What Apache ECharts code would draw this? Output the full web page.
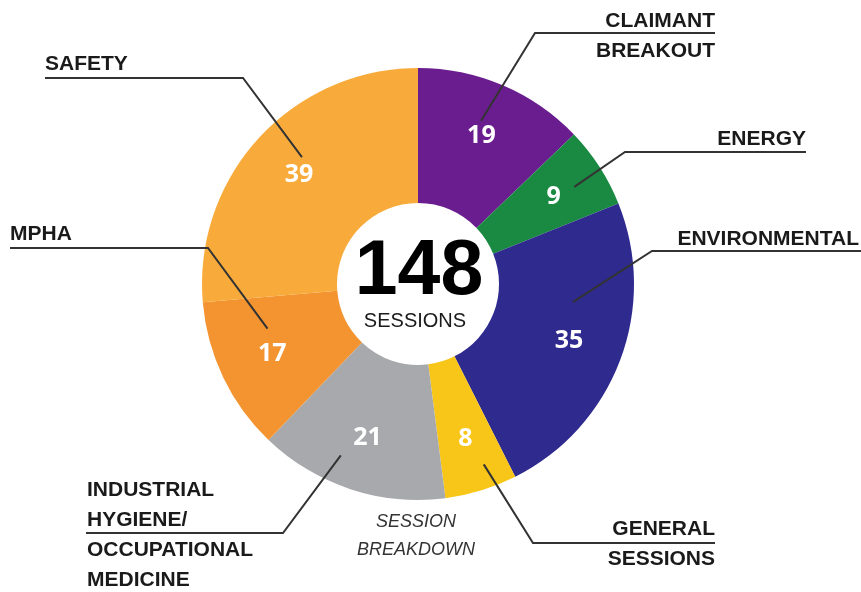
<!DOCTYPE html>
<html lang="en">

<head>
	<meta charset="UTF-8">
	<title>Session Breakdown</title>
	<script src="https://cdn.jsdelivr.net/npm/echarts@6/dist/echarts.min.js"></script>
	<style>
		html, body { margin: 0; padding: 0; background: #fff; }
	</style>
</head>

<body>
	<div id="main" style="width: 861px;height: 592px;"></div>

	<script>
		// data
		var names = ['CLAIMANT\nBREAKOUT', 'ENERGY', 'ENVIRONMENTAL', 'GENERAL\nSESSIONS',
			'INDUSTRIAL\nHYGIENE/\nOCCUPATIONAL\nMEDICINE', 'MPHA', 'SAFETY'];
		var values = [19, 9, 35, 8, 21, 17, 39];
		var colors = ['#6a1d8f', '#1a8a42', '#2f2a8e', '#f8c619', '#a8a9ac', '#f39430', '#f8ab3b'];
		var totalText = '148';
		var totalSub = 'SESSIONS';
		var caption = 'SESSION\nBREAKDOWN';

		// label placement (x,y of text, underline y, elbow x, line end x, tip radius / angle shift)
		var spots = [
			{ x: 715, y: 36, align: 'right', lineY: 33, elbowX: 535, endX: 715, tipR: 175, tipShift: 2 },
			{ x: 806, y: 139, align: 'right', lineY: 152, elbowX: 625, endX: 806, tipR: 184, tipShift: -1 },
			{ x: 859, y: 239, align: 'right', lineY: 251, elbowX: 652, endX: 861, tipR: 156, tipShift: 14 },
			{ x: 715, y: 544, align: 'right', lineY: 543, elbowX: 533, endX: 715, tipR: 192, tipShift: 3 },
			{ x: 87, y: 535, align: 'left', lineY: 533, elbowX: 283, endX: 86, tipR: 188, tipShift: -6 },
			{ x: 10, y: 234, align: 'left', lineY: 248, elbowX: 208, endX: 10, tipR: 157, tipShift: -9 },
			{ x: 45, y: 64, align: 'left', lineY: 78, elbowX: 243, endX: 45, tipR: 172, tipShift: -5 }
		];

		var cx = 418, cy = 284, r0 = 81, r1 = 216;

		var total = values.reduce(function (a, b) { return a + b; }, 0);
		function midAngle(i) {
			var before = 0;
			for (var k = 0; k < i; k++) before += values[k];
			return 90 - (before + values[i] / 2) / total * 360;
		}

		var chartDom = document.getElementById('main');
		var myChart = echarts.init(chartDom);

		var option = {
			animation: false,
			color: colors,
			graphic: [
				{
					type: 'text', x: 419, y: 273, z: 10,
					style: { text: totalText, font: 'bold 77px "Liberation Sans", Arial', fill: '#000', align: 'center', verticalAlign: 'middle' }
				},
				{
					type: 'text', x: 415, y: 321, z: 10,
					style: { text: totalSub, font: '20px "Liberation Sans", Arial', fill: '#1a1a1a', align: 'center', verticalAlign: 'middle' }
				},
				{
					type: 'text', x: 416, y: 536,
					style: { text: caption, font: 'italic 18px "Liberation Sans", Arial', fill: '#333', align: 'center', verticalAlign: 'middle', lineHeight: 28 }
				}
			],
			series: [
				{
					type: 'pie',
					z: 2,
					center: [cx, cy],
					radius: [r0, r1],
					startAngle: 90,
					clockwise: true,
					silent: true,
					avoidLabelOverlap: false,
					data: values.map(function (v, i) { return { name: names[i], value: v }; }),
					label: {
						show: true,
						position: 'inside',
						formatter: '{c}',
						color: '#fff',
						fontSize: 25,
						fontWeight: 'bold',
						fontFamily: 'Open Sans, Liberation Sans, Arial'
					},
					labelLayout: function (params) {
						var a = midAngle(params.dataIndex) * Math.PI / 180;
						return { dx: 10 * Math.cos(a), dy: -10 * Math.sin(a) };
					},
					labelLine: { show: false }
				},
				{
					type: 'pie',
					z: 6,
					center: [cx, cy],
					radius: [r0, r1],
					startAngle: 90,
					clockwise: true,
					silent: true,
					avoidLabelOverlap: false,
					itemStyle: { color: 'rgba(0,0,0,0)' },
					data: values.map(function (v, i) { return { name: names[i], value: v }; }),
					label: {
						show: true,
						position: 'outside',
						formatter: '{b}',
						color: '#1a1a1a',
						fontSize: 21,
						fontWeight: 'bold',
						fontFamily: 'Liberation Sans, Arial',
						lineHeight: 30
					},
					labelLine: {
						show: true,
						smooth: false,
						lineStyle: { color: '#333', width: 2 }
					},
					labelLayout: function (params) {
						var s = spots[params.dataIndex];
						var a = (midAngle(params.dataIndex) + s.tipShift) * Math.PI / 180;
						var tip = [cx + s.tipR * Math.cos(a), cy - s.tipR * Math.sin(a)];
						return {
							x: s.x,
							y: s.y,
							align: s.align,
							verticalAlign: 'middle',
							labelLinePoints: [tip, [s.elbowX, s.lineY], [s.endX, s.lineY]]
						};
					}
				}
			]
		};

		option && myChart.setOption(option);
	</script>
</body>

</html>
